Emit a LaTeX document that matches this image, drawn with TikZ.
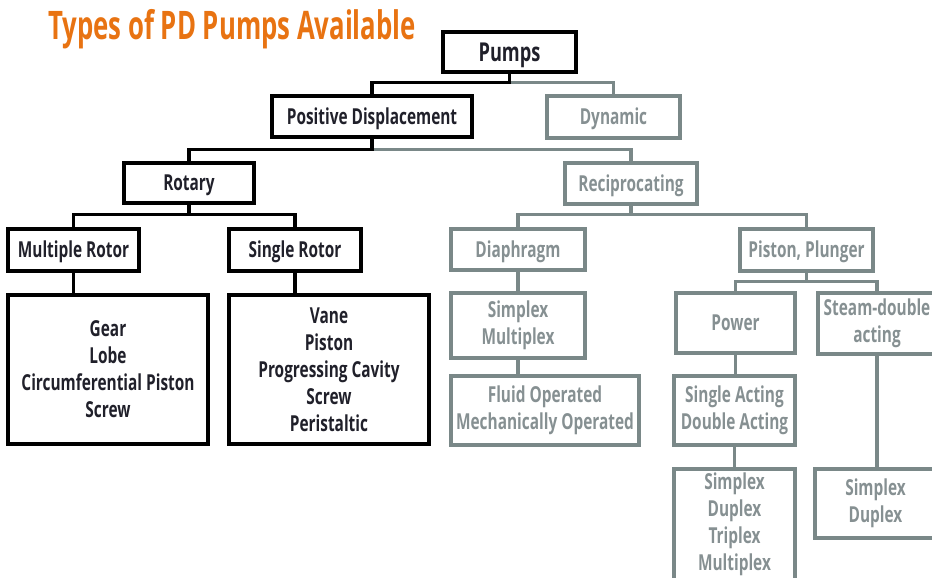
\documentclass[tikz,border=0pt]{standalone}
\usepackage{fontspec}
\setmainfont{Open Sans}[FakeStretch=0.7]
\newfontfamily\titlefont{Open Sans}[FakeStretch=0.655]
\usetikzlibrary{calc}
\definecolor{ttl}{RGB}{232,115,18}
\definecolor{ink}{RGB}{32,32,42}
\definecolor{gline}{RGB}{122,136,136}
\definecolor{gtext}{RGB}{134,144,146}
\tikzset{
  wh/.style 2 args={minimum width=#1*0.75pt, minimum height=#2*0.75pt},
  bbox/.style={draw=black, line width=2.7pt, text=ink, inner sep=0pt, align=center,
    font=\fontsize{16.5}{20.25}\selectfont\bfseries},
  gbox/.style={draw=gline, line width=2.5pt, text=gtext, inner sep=0pt, align=center,
    font=\fontsize{16.5}{20.25}\selectfont\bfseries},
  oneline/.style={text height=11.8pt, text depth=0pt},
  bcon/.style={draw=black, line width=2.3pt},
  gcon/.style={draw=gline, line width=2.3pt},
}
\begin{document}
\begin{tikzpicture}[x=0.75pt,y=-0.75pt]
\useasboundingbox (0,0) rectangle (932,578);
\node[anchor=base west, text=ttl, inner sep=0pt, font=\titlefont\fontsize{29.5}{32}\selectfont\bfseries] (title) at (48,39) {Types of PD Pumps Available};

\node[bbox, wh={133}{40}, text height=13.9pt, text depth=0pt, font=\fontsize{19.5}{22}\selectfont\bfseries] (pumps) at (509.5,52) {Pumps};
\node[bbox, oneline, wh={200}{41}] (pd) at (372,116.5) {Positive Displacement};
\node[gbox, oneline, wh={133}{42}] (dyn) at (613.5,117) {Dynamic};
\node[bbox, oneline, wh={130}{40}] (rot) at (189,183) {Rotary};
\node[gbox, oneline, wh={132}{41}] (rec) at (631,183.5) {Reciprocating};
\node[bbox, oneline, wh={131}{42}] (mr) at (73.5,250) {Multiple Rotor};
\node[bbox, oneline, wh={132}{42}] (sr) at (295,250) {Single Rotor};
\node[bbox, wh={200}{149}] (gear) at (108,369.5) {Gear\\Lobe\\Circumferential Piston\\Screw};
\node[bbox, wh={200}{149}] (vane) at (329,369.5) {Vane\\Piston\\Progressing Cavity\\Screw\\Peristaltic};
\node[gbox, oneline, wh={134}{41}] (dia) at (518,249.5) {Diaphragm};
\node[gbox, oneline, wh={133}{42}] (pp) at (806.5,250) {Piston, Plunger};
\node[gbox, wh={134}{65}] (sm) at (518,325.5) {Simplex\\Multiplex};
\node[gbox, wh={188}{69}] (fo) at (545,410.5) {Fluid Operated\\Mechanically Operated};
\node[gbox, oneline, wh={119}{60}] (pow) at (735.5,323) {Power};
\node[gbox, wh={118}{61}] (steam) at (877,323.5) {Steam-double\\acting};
\node[gbox, wh={121}{69}] (sa) at (734.5,410.5) {Single Acting\\Double Acting};
\node[gbox, wh={121}{111}] (sdtm) at (734.5,524.5) {Simplex\\Duplex\\Triplex\\Multiplex};
\node[gbox, wh={121}{69}] (sd) at (875.5,503.5) {Simplex\\Duplex};

% connectors
\coordinate (j1) at ($(pumps.south)+(0,9)$);
\draw[gcon] (j1) -| (dyn.north);
\draw[bcon] (pumps.south) -- (j1) -| (pd.north);
\coordinate (j2) at ($(pd.south)+(0,11)$);
\draw[gcon] (j2) -| (rec.north);
\draw[bcon] (pd.south) -- (j2) -| (rot.north);
\coordinate (j3) at ($(rot.south)+(0,10)$);
\draw[bcon] (rot.south) -- (j3) -| (mr.north);
\draw[bcon] (j3) -| (sr.north);
\draw[bcon] (mr.south) -- (mr.south |- gear.north);
\draw[bcon] (sr.south) -- (sr.south |- vane.north);
\coordinate (j4) at ($(rec.south)+(0,9)$);
\draw[gcon] (rec.south) -- (j4) -| (dia.north);
\draw[gcon] (j4) -| (pp.north);
\draw[gcon] (dia.south) -- (sm.north);
\draw[gcon] (sm.south) -- (sm.south |- fo.north);
\coordinate (j5) at ($(pp.south)+(0,9)$);
\draw[gcon] (pp.south) -- (j5) -| (pow.north);
\draw[gcon] (j5) -| (steam.north);
\draw[gcon] (pow.south) -- (pow.south |- sa.north);
\draw[gcon] (sa.south) -- (sa.south |- sdtm.north);
\draw[gcon] (steam.south) -- (steam.south |- sd.north);
\end{tikzpicture}
\end{document}
